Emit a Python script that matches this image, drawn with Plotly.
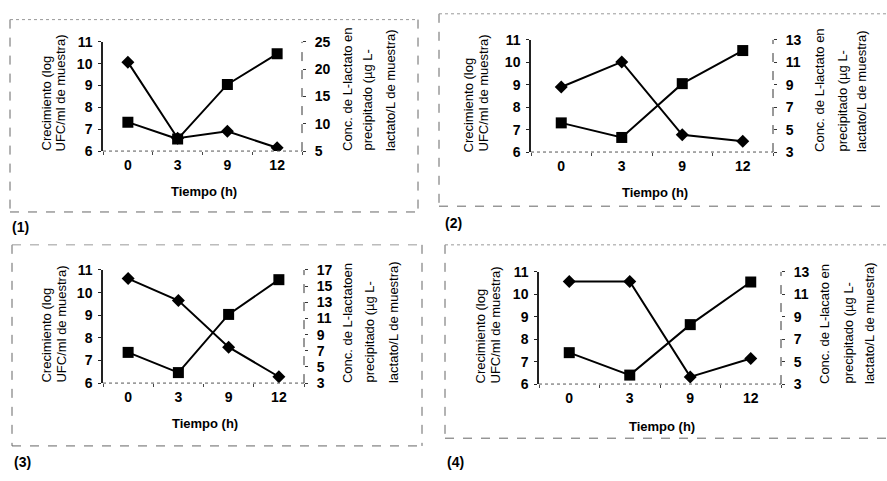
import plotly.graph_objects as go

W, H = 887, 481

# ---------------- data ----------------
time_labels = ["0", "3", "9", "12"]

p1_growth = [10.07, 6.59, 6.91, 6.15]
p1_lactate = [10.3, 7.2, 17.2, 22.8]

p2_growth = [8.90, 10.02, 6.77, 6.48]
p2_lactate = [5.6, 4.3, 9.1, 12.05]

p3_growth = [10.62, 9.65, 7.59, 6.28]
p3_lactate = [6.8, 4.3, 11.5, 15.8]

p4_growth = [10.57, 10.57, 6.32, 7.14]
p4_lactate = [5.8, 3.8, 8.3, 12.1]

left_title = ["Crecimiento (log", "UFC/ml de muestra)"]
right_titles = [
    ["Conc. de L-lactato en", "precipitado (µg L-", "lactato/L de muestra)"],
    ["Conc. de L-lactato en", "precipitado (µg L-", "lactato/L de muestra)"],
    ["Conc. de L-lactatoen", "precipitado (µg L-", "lactato/L de muestra)"],
    ["Conc. de L-lacato en", "precipitado (µg L-", "lactato/L de muestra)"],
]
panel_labels = ["(1)", "(2)", "(3)", "(4)"]
right_ranges = [(5, 25, 5), (3, 13, 2), (3, 17, 2), (3, 13, 2)]
growth_sets = [p1_growth, p2_growth, p3_growth, p4_growth]
lactate_sets = [p1_lactate, p2_lactate, p3_lactate, p4_lactate]

# ---------------- layout geometry (pixels) ----------------
geo = [
    dict(l=103, r=302, t=35, b=148, lt=[47, 61], rt=[347, 368, 390], tx=204, ty=190,
         frame=(10, 12, 418, 211), topstyle="dot", lab=(10, 227)),
    dict(l=531, r=773, t=33, b=149, lt=[468, 483], rt=[820, 842, 862], tx=655, ty=191,
         frame=(439, 6, 900, 205), topstyle="dot", lab=(443, 222)),
    dict(l=103, r=304, t=271, b=388, lt=[47, 62], rt=[347, 370, 393], tx=205, ty=430,
         frame=(12, 245, 422, 453), topstyle="dash", lab=(12, 470)),
    dict(l=539, r=781, t=273, b=389, lt=[480, 495], rt=[825, 848, 870], tx=662, ty=433,
         frame=(445, 245, 900, 445), topstyle="dot", lab=(445, 470)),
]

def fx(x):
    return x / W

def fy(y):
    return 1 - y / H

FONT = "Liberation Sans, Arial, sans-serif"
fig = go.Figure()
layout = dict(
    width=W, height=H, margin=dict(l=0, r=0, t=0, b=0),
    paper_bgcolor="white", plot_bgcolor="white", showlegend=False,
)
annotations = []
shapes = []

for i in range(4):
    g = geo[i]
    n = i + 1
    xa = f"x{n}" if n > 1 else "x"
    ya = f"y{n}" if n > 1 else "y"
    yr_n = n + 4
    yra = f"y{yr_n}"

    fig.add_trace(go.Scatter(
        x=time_labels, y=growth_sets[i], xaxis=xa, yaxis=ya, mode="lines+markers",
        line=dict(color="black", width=2),
        marker=dict(symbol="diamond", size=10, color="black"),
    ))
    fig.add_trace(go.Scatter(
        x=time_labels, y=lactate_sets[i], xaxis=xa, yaxis=yra, mode="lines+markers",
        line=dict(color="black", width=2),
        marker=dict(symbol="square", size=11, color="black"),
    ))

    xkey = f"xaxis{n}" if n > 1 else "xaxis"
    ykey = f"yaxis{n}" if n > 1 else "yaxis"
    layout[xkey] = dict(
        domain=[fx(g["l"]), fx(g["r"])], anchor=ya, type="category",
        range=[-0.5, 3.5], showgrid=False, zeroline=False, showline=False,
        ticks="outside", ticklen=3, tickcolor="#444", tickson="boundaries",
        tickfont=dict(family=FONT, size=14, color="black", weight="bold"),
        ticklabelstandoff=4, fixedrange=True,
    )
    layout[ykey] = dict(
        domain=[fy(g["b"]), fy(g["t"])], anchor=xa, range=[6, 11], dtick=1, tick0=6,
        showgrid=False, zeroline=False, showline=True, linecolor="#222", linewidth=1.5,
        ticks="outside", ticklen=3, tickcolor="#222",
        tickfont=dict(family=FONT, size=14, color="black", weight="bold"),
        ticklabelstandoff=3,
    )
    lo, hi, dt = right_ranges[i]
    layout[f"yaxis{yr_n}"] = dict(
        overlaying=ya, side="right", anchor=xa, range=[lo, hi], dtick=dt, tick0=lo,
        showgrid=False, zeroline=False, showline=False,
        ticks="outside", ticklen=3, tickcolor="#333",
        tickfont=dict(family=FONT, size=14, color="black", weight="bold"),
        ticklabelstandoff=6,
    )

    # right axis dashed line and bottom dotted line
    shapes.append(dict(type="line", xref=f"{xa} domain", yref=f"{ya} domain",
                       x0=1, x1=1, y0=0, y1=1, line=dict(color="#333", width=1, dash="dash")))
    shapes.append(dict(type="line", xref=f"{xa} domain", yref=f"{ya} domain",
                       x0=0, x1=1, y0=0, y1=0, line=dict(color="#555", width=1, dash="dot")))

    # frame (edges drawn separately)
    x0, y0, x1, y1 = g["frame"]
    edge = dict(color="#666", width=1, dash="dash")
    shapes.append(dict(type="line", xref="paper", yref="paper", x0=fx(x0), x1=fx(x0),
                       y0=fy(y0), y1=fy(y1), line=edge))
    shapes.append(dict(type="line", xref="paper", yref="paper", x0=fx(x1), x1=fx(x1),
                       y0=fy(y0), y1=fy(y1), line=edge))
    shapes.append(dict(type="line", xref="paper", yref="paper", x0=fx(x0), x1=fx(x1),
                       y0=fy(y1), y1=fy(y1), line=edge))
    shapes.append(dict(type="line", xref="paper", yref="paper", x0=fx(x0), x1=fx(x1),
                       y0=fy(y0), y1=fy(y0),
                       line=dict(color="#999", width=1, dash=g["topstyle"])))

    # left axis titles (rotated lines, bottom aligned)
    for k, txt in enumerate(left_title):
        annotations.append(dict(
            text=txt, xref="paper", yref="paper", x=fx(g["lt"][k]), y=fy(g["b"] + 2),
            xanchor="center", yanchor="bottom", textangle=-90, showarrow=False,
            font=dict(family=FONT, size=13, color="black"),
        ))
    for k, txt in enumerate(right_titles[i]):
        annotations.append(dict(
            text=txt, xref="paper", yref="paper", x=fx(g["rt"][k]), y=fy(g["b"] + 2),
            xanchor="center", yanchor="bottom", textangle=-90, showarrow=False,
            font=dict(family=FONT, size=13, color="black"),
        ))
    annotations.append(dict(
        text="Tiempo (h)", xref="paper", yref="paper", x=fx(g["tx"]), y=fy(g["ty"]),
        xanchor="center", yanchor="middle", showarrow=False,
        font=dict(family=FONT, size=13, color="black", weight="bold"),
    ))
    lx, ly = g["lab"]
    annotations.append(dict(
        text=panel_labels[i], xref="paper", yref="paper", x=fx(lx), y=fy(ly),
        xanchor="left", yanchor="middle", showarrow=False,
        font=dict(family=FONT, size=14, color="black", weight="bold"),
    ))

layout["annotations"] = annotations
layout["shapes"] = shapes
fig.update_layout(**layout)
fig.write_html("out.html")
